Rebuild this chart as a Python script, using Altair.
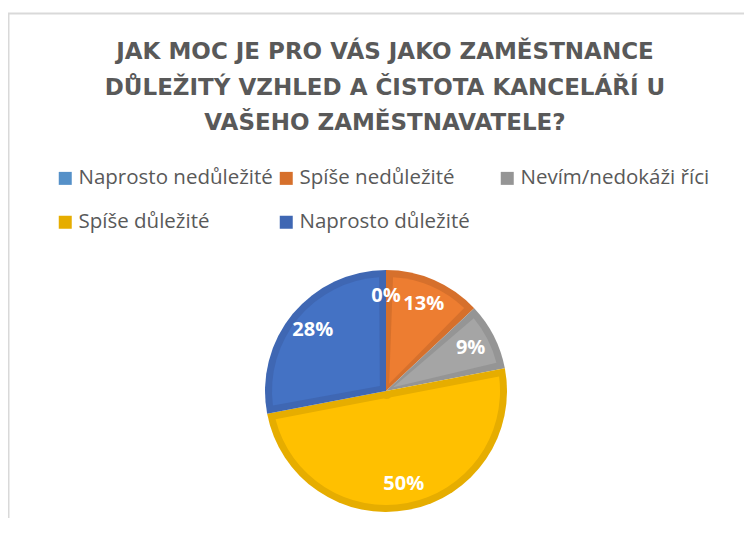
import math
import altair as alt
import pandas as pd

TITLE_LINES = [
    "JAK MOC JE PRO VÁS JAKO ZAMĚSTNANCE",
    "DŮLEŽITÝ VZHLED A ČISTOTA KANCELÁŘÍ U",
    "VAŠEHO ZAMĚSTNAVATELE?",
]
CATEGORIES = [
    "Naprosto nedůležité",
    "Spíše nedůležité",
    "Nevím/nedokáži říci",
    "Spíše důležité",
    "Naprosto důležité",
]
VALUES = [0, 13, 9, 50, 28]
FILL_COLORS = ["#5B9BD5", "#ED7D31", "#A5A5A5", "#FFC000", "#4472C4"]
EDGE_COLORS = ["#5590C8", "#D6702C", "#959595", "#E6AD00", "#3F67B3"]

W, H = 736, 510
CX, CY = 378, 383
R = 121
BORDER = 7
INNER_R = 8
_rp = math.sqrt(INNER_R ** 2 + (R - BORDER) ** 2)
PAD = 2 * math.asin(BORDER / _rp)

df = pd.DataFrame({"category": CATEGORIES, "value": VALUES,
                   "idx": list(range(len(CATEGORIES)))})

base = alt.Chart(df).encode(
    theta=alt.Theta("value:Q", stack=True),
    order=alt.Order("idx:Q", sort="ascending"),
    x=alt.value(CX),
    y=alt.value(CY),
)

outer = base.mark_arc(outerRadius=R).encode(
    color=alt.Color(
        "category:N",
        scale=alt.Scale(domain=CATEGORIES, range=EDGE_COLORS),
        legend=alt.Legend(
            title=None,
            orient="none",
            legendX=47,
            legendY=160,
            direction="horizontal",
            columns=3,
            gridAlign="all",
            columnPadding=3,
            rowPadding=23,
            symbolType="square",
            symbolSize=169,
            symbolStrokeWidth=0,
            labelFont="Open Sans",
            labelFontSize=20.5,
            labelColor="#595959",
            labelLimit=400,
            labelOffset=3,
        ),
    )
)

inner = base.mark_arc(outerRadius=R - BORDER, innerRadius=INNER_R, padAngle=PAD).encode(
    fill=alt.Fill("category:N",
                  scale=alt.Scale(domain=CATEGORIES, range=FILL_COLORS),
                  legend=None)
)

labels = base.transform_calculate(label="datum.value + '%'").mark_text(
    radius=95, font="Open Sans", fontSize=20, fontWeight="bold",
    color="white", align="center", baseline="middle"
).encode(text="label:N")

frame_df = pd.DataFrame({"k": [0]})
frame = alt.Chart(frame_df).mark_rect(
    fillOpacity=0, stroke="#D9D9D9", strokeWidth=2
).encode(
    x=alt.value(0.5), x2=alt.value(W + 30),
    y=alt.value(5.5), y2=alt.value(H + 30),
)

title = alt.Chart(frame_df).mark_text(
    text=TITLE_LINES, font="DejaVu Sans", fontSize=23, fontWeight="bold",
    color="#595959", align="center", baseline="alphabetic", lineHeight=35.5,
).encode(x=alt.value(377), y=alt.value(51))

chart = alt.layer(frame, title, outer, inner, labels).properties(
    width=W, height=H,
    autosize=alt.AutoSizeParams(type="none"),
    padding=0,
).configure_view(stroke=None)

chart.save("out.html", embed_options={"renderer": "svg", "actions": False})
